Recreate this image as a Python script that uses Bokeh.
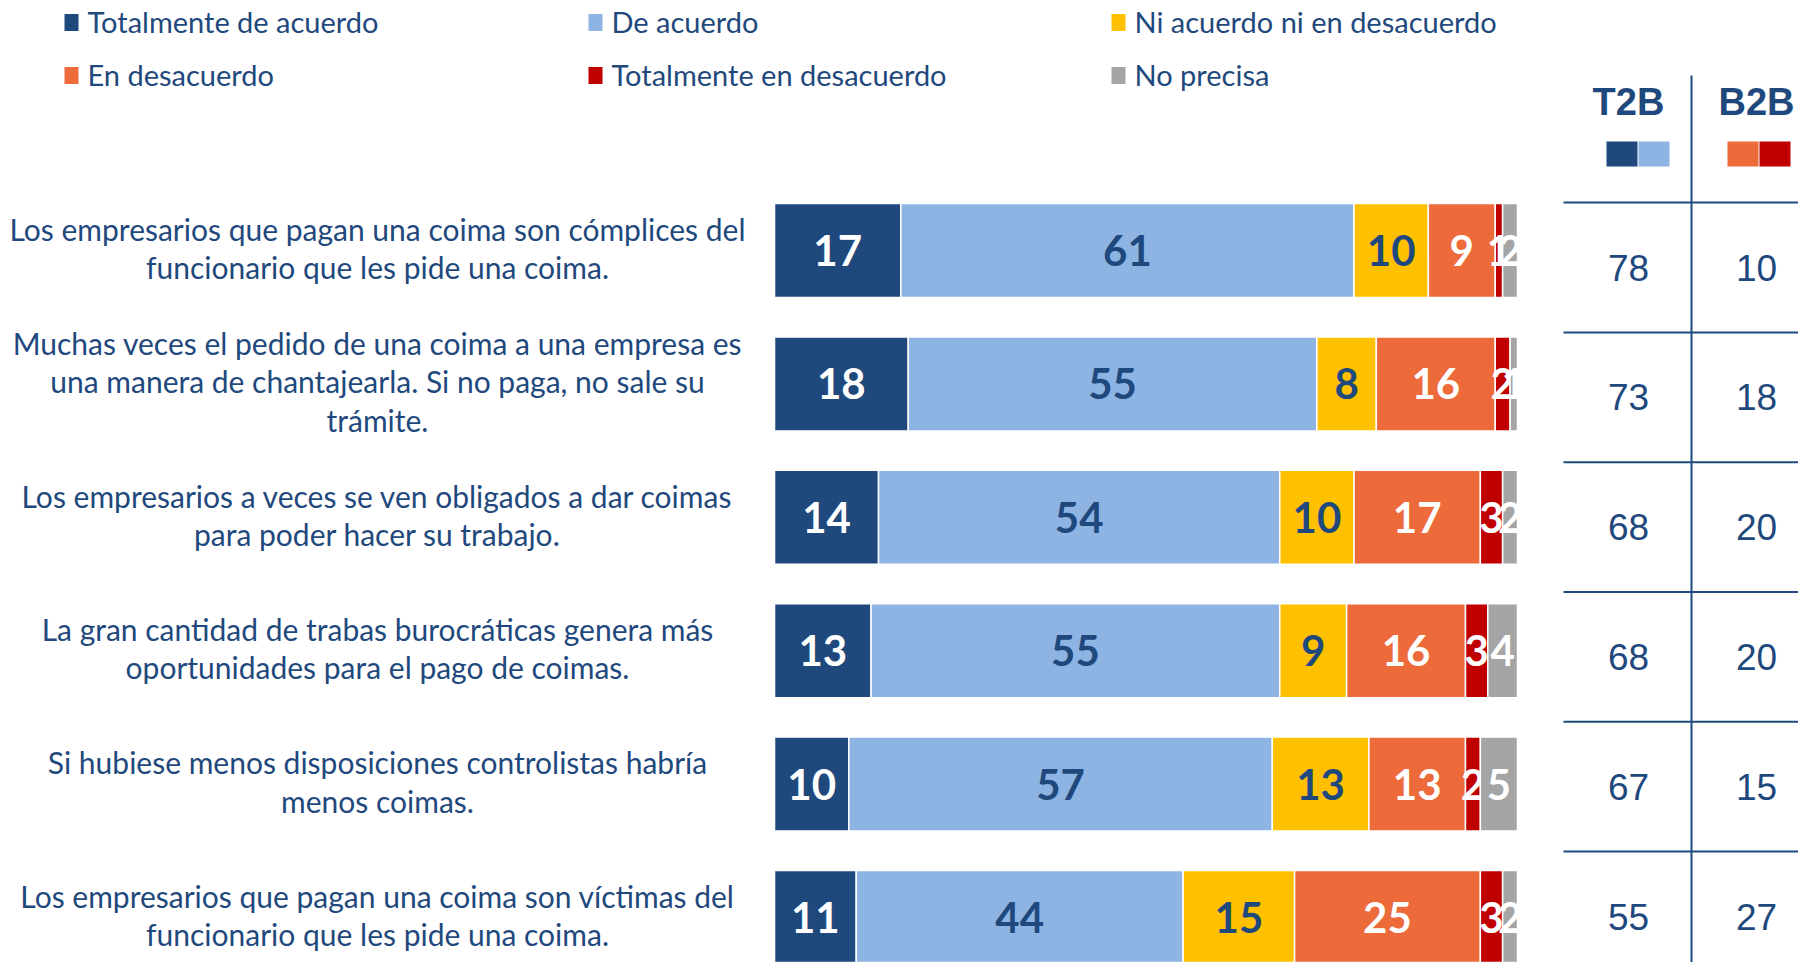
from bokeh.plotting import figure
from bokeh.models import Range1d
from bokeh.core.properties import value
from bokeh.embed import file_html
from bokeh.resources import INLINE

# ---------------- data ----------------
statements = [
    ["Los empresarios que pagan una coima son cómplices del", "funcionario que les pide una coima."],
    ["Muchas veces el pedido de una coima a una empresa es", "una manera de chantajearla. Si no paga, no sale su", "trámite."],
    ["Los empresarios a veces se ven obligados a dar coimas", "para poder hacer su trabajo."],
    ["La gran cantidad de trabas burocráticas genera más", "oportunidades para el pago de coimas."],
    ["Si hubiese menos disposiciones controlistas habría", "menos coimas."],
    ["Los empresarios que pagan una coima son víctimas del", "funcionario que les pide una coima."],
]
categories = ["Totalmente de acuerdo", "De acuerdo", "Ni acuerdo ni en desacuerdo",
              "En desacuerdo", "Totalmente en desacuerdo", "No precisa"]
totalmente_de_acuerdo = [17, 18, 14, 13, 10, 11]
de_acuerdo = [61, 55, 54, 55, 57, 44]
ni_acuerdo_ni_desacuerdo = [10, 8, 10, 9, 13, 15]
en_desacuerdo = [9, 16, 17, 16, 13, 25]
totalmente_en_desacuerdo = [1, 2, 3, 3, 2, 3]
no_precisa = [2, 1, 2, 4, 5, 2]
t2b = [78, 73, 68, 68, 67, 55]
b2b = [10, 18, 20, 20, 15, 27]
table_headers = ["T2B", "B2B"]

series = [totalmente_de_acuerdo, de_acuerdo, ni_acuerdo_ni_desacuerdo,
          en_desacuerdo, totalmente_en_desacuerdo, no_precisa]

# ---------------- style ----------------
DARK = "#1F497D"
colors = ["#1F497D", "#8DB4E2", "#FFC000", "#ED6A3A", "#C00000", "#A5A5A5"]
label_colors = ["white", DARK, DARK, "white", "white", "white"]
FONT = "Lato"

W, H = 1798, 962
X0, Y0 = 0, 0
BAR_LEFT, BAR_RIGHT = 774, 1517
ROW0, ROW_STEP = 250, 133.4
TROW0, TROW_STEP = 267, 129.8
BAR_H = 94
LINE_STEP = 38.5
TEXT_SHIFT = -2.5

p = figure(width=W, height=H, x_range=Range1d(X0, X0 + W), y_range=Range1d(Y0 + H, Y0),
           output_backend="svg", toolbar_location=None, min_border=0)
p.xaxis.visible = False
p.yaxis.visible = False
p.xgrid.visible = False
p.ygrid.visible = False
p.outline_line_color = None

ppu = (BAR_RIGHT - BAR_LEFT) / 100.0
p.extra_x_ranges = {"pct": Range1d(-(BAR_LEFT - X0) / ppu, -(BAR_LEFT - X0) / ppu + W / ppu)}
p.extra_y_ranges = {
    "rows": Range1d((Y0 + H - ROW0) / ROW_STEP, (Y0 - ROW0) / ROW_STEP),
    "trow": Range1d((Y0 + H - TROW0) / TROW_STEP, (Y0 - TROW0) / TROW_STEP),
}

rows = list(range(len(statements)))

# ---------------- stacked bars ----------------
cum = [0.0] * len(rows)
for j, vals in enumerate(series):
    left = cum[:]
    right = [l + v for l, v in zip(left, vals)]
    p.hbar(y=rows, left=left, right=right, height=BAR_H / ROW_STEP,
           fill_color=colors[j], line_color="white", line_width=1.5,
           x_range_name="pct", y_range_name="rows")
    mids = [(l + r) / 2 for l, r in zip(left, right)]
    p.text(x=mids, y=rows, text=[str(v) for v in vals], x_range_name="pct", y_range_name="rows",
           text_align="center", text_baseline="middle", text_color=label_colors[j],
           text_font=value(FONT), text_font_style="bold", text_font_size="42px")
    cum = right

# ---------------- statement labels ----------------
sx, sy, st = [], [], []
for i, lines in enumerate(statements):
    n = len(lines)
    for k, line in enumerate(lines):
        sx.append(377)
        sy.append(i + ((k - (n - 1) / 2) * LINE_STEP + TEXT_SHIFT) / ROW_STEP)
        st.append(line)
p.text(x=sx, y=sy, text=st, y_range_name="rows", text_align="center", text_baseline="middle",
       text_color=DARK, text_font=value(FONT), text_font_size="30px")

# ---------------- legend ----------------
leg_cols = [64, 588, 1111]
leg_rows = [22, 75]
lx, ly = [], []
for idx in range(len(categories)):
    lx.append(leg_cols[idx % 3])
    ly.append(leg_rows[idx // 3])
p.rect(x=[x + 7 for x in lx], y=ly, width=14, height=17, fill_color=colors, line_color=None)
p.text(x=[x + 23 for x in lx], y=[y - 1 for y in ly], text=categories, text_align="left",
       text_baseline="middle", text_color=DARK, text_font=value(FONT), text_font_size="29px")

# ---------------- T2B / B2B table ----------------
TX = [1628, 1756]
p.text(x=TX, y=[101, 101], text=table_headers, text_align="center", text_baseline="middle",
       text_color=DARK, text_font=value("Liberation Sans"), text_font_style="bold", text_font_size="38px")
p.quad(left=[1606, 1638, 1727, 1759], right=[1637, 1669, 1758, 1790],
       top=[141] * 4, bottom=[166] * 4,
       fill_color=[colors[0], colors[1], colors[3], colors[4]], line_color=None)

p.text(x=[TX[0]] * len(rows), y=rows, text=[str(v) for v in t2b], y_range_name="trow",
       text_align="center", text_baseline="middle", text_color=DARK,
       text_font=value("Liberation Sans"), text_font_size="37px")
p.text(x=[TX[1]] * len(rows), y=rows, text=[str(v) for v in b2b], y_range_name="trow",
       text_align="center", text_baseline="middle", text_color=DARK,
       text_font=value("Liberation Sans"), text_font_size="37px")

bounds = [r - 0.5 for r in rows] + [len(rows) - 0.5]
p.segment(x0=[1563] * len(bounds), x1=[1830] * len(bounds), y0=bounds, y1=bounds,
          y_range_name="trow", line_color=DARK, line_width=2)
p.segment(x0=[1691], x1=[1691], y0=[75], y1=[990], line_color=DARK, line_width=2)

open("out.html", "w").write(file_html(p, INLINE))
